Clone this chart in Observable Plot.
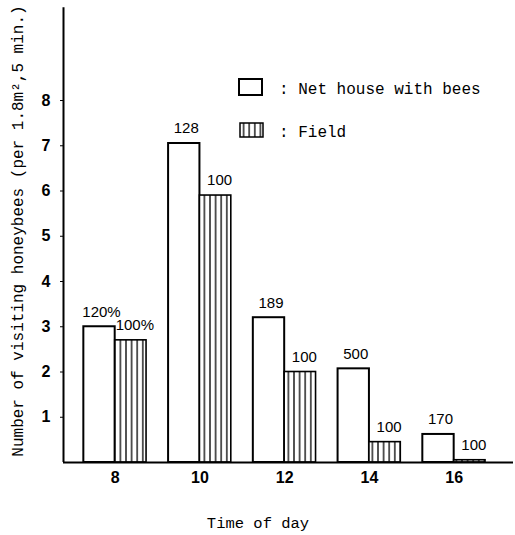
<!DOCTYPE html>
<html>
<head>
<meta charset="utf-8">
<script src="https://cdn.jsdelivr.net/npm/d3@7"></script>
<script src="https://cdn.jsdelivr.net/npm/@observablehq/plot@0.6"></script>
<style>
  html, body { margin: 0; padding: 0; background: #fff; }
  svg { display: block; }
</style>
</head>
<body>
<div id="chart"></div>
<script>
// ---- data ----
const hours = [8, 10, 12, 14, 16];
const netHouse = [3.0, 7.05, 3.2, 2.07, 0.62];
const field = [2.7, 5.9, 2.0, 0.45, 0.05];
const netLabels = ["120%", "128", "189", "500", "170"];
const fieldLabels = ["100%", "100", "100", "100", "100"];
const yTicks = [1, 2, 3, 4, 5, 6, 7, 8];
const seriesNames = ["Net house with bees", "Field"];
const xTitle = "Time of day";
const yTitle = "Number of visiting honeybees (per 1.8m\u00B2,5 min.)";

const half = 0.74;
const netRows = hours.map((h, i) => ({h, x1: h - half, x2: h, v: netHouse[i], label: netLabels[i]}));
const fieldRows = hours.map((h, i) => ({h, x1: h, x2: h + half, v: field[i], label: fieldLabels[i]}));

const xMin = 6.78, xMax = 17.4;
const mono = "'Liberation Mono', 'DejaVu Sans Mono', monospace";
const sans = "'Liberation Sans', Arial, sans-serif";

const chart = Plot.plot({
  width: 515,
  height: 535,
  marginLeft: 63,
  marginRight: 2,
  marginTop: 5,
  marginBottom: 73,
  style: {background: "#fff", color: "#000", fontFamily: sans, fontSize: "15px"},
  x: {domain: [xMin, xMax]},
  y: {domain: [0, 10.1]},
  marks: [
    Plot.rect(netRows, {x1: "x1", x2: "x2", y1: 0, y2: "v", fill: "white", stroke: "black", strokeWidth: 2}),
    Plot.rect(fieldRows, {x1: "x1", x2: "x2", y1: 0, y2: "v", fill: "url(#hatch)", stroke: "black", strokeWidth: 1.6}),
    Plot.text(netRows, {x: d => (d.x1 + d.x2) / 2, y: "v", text: "label", dy: -15, dx: 2, fontSize: 15, fontFamily: sans}),
    Plot.text(fieldRows, {x: d => (d.x1 + d.x2) / 2, y: "v", text: "label", dy: -15, dx: 4, fontSize: 15, fontFamily: sans}),
    Plot.axisY({ticks: yTicks, tickSize: 3, tickPadding: 10, label: null, fontSize: 16, fontWeight: "bold", tickFormat: d => String(d)}),
    Plot.axisX({ticks: hours, tickSize: 0, tickPadding: 9, label: null, fontSize: 16, fontWeight: "bold", tickFormat: d => String(d)}),
    Plot.ruleX([xMin], {y1: 0, y2: 10.05, strokeWidth: 2}),
    Plot.ruleY([0], {strokeWidth: 2})
  ]
});

const svg = d3.select(chart);
const defs = svg.insert("defs", ":first-child");
const pat = defs.append("pattern").attr("id", "hatch").attr("patternUnits", "userSpaceOnUse")
  .attr("width", 5.6).attr("height", 10);
pat.append("rect").attr("width", 5.6).attr("height", 10).attr("fill", "white");
pat.append("line").attr("x1", 2.8).attr("x2", 2.8).attr("y1", 0).attr("y2", 10)
  .attr("stroke", "black").attr("stroke-width", 1.3);

// legend
const lg = svg.append("g").attr("font-family", mono).attr("font-size", 16).attr("text-anchor", "start");
lg.append("rect").attr("x", 239).attr("y", 79).attr("width", 23).attr("height", 16)
  .attr("fill", "white").attr("stroke", "black").attr("stroke-width", 2);
lg.append("rect").attr("x", 240).attr("y", 123).attr("width", 23).attr("height", 14)
  .attr("fill", "url(#hatch)").attr("stroke", "black").attr("stroke-width", 1.5);
lg.append("text").attr("x", 279).attr("y", 94).text(": " + seriesNames[0]);
lg.append("text").attr("x", 279).attr("y", 137).text(": " + seriesNames[1]);

// axis titles
svg.append("text").attr("x", 258).attr("y", 528).attr("text-anchor", "middle")
  .attr("font-family", mono).attr("font-size", 15.5).text(xTitle);
svg.append("text").attr("transform", "translate(23,231) rotate(-90)").attr("text-anchor", "middle")
  .attr("font-family", mono).attr("font-size", 16).text(yTitle);

document.getElementById("chart").appendChild(chart);
</script>
</body>
</html>
